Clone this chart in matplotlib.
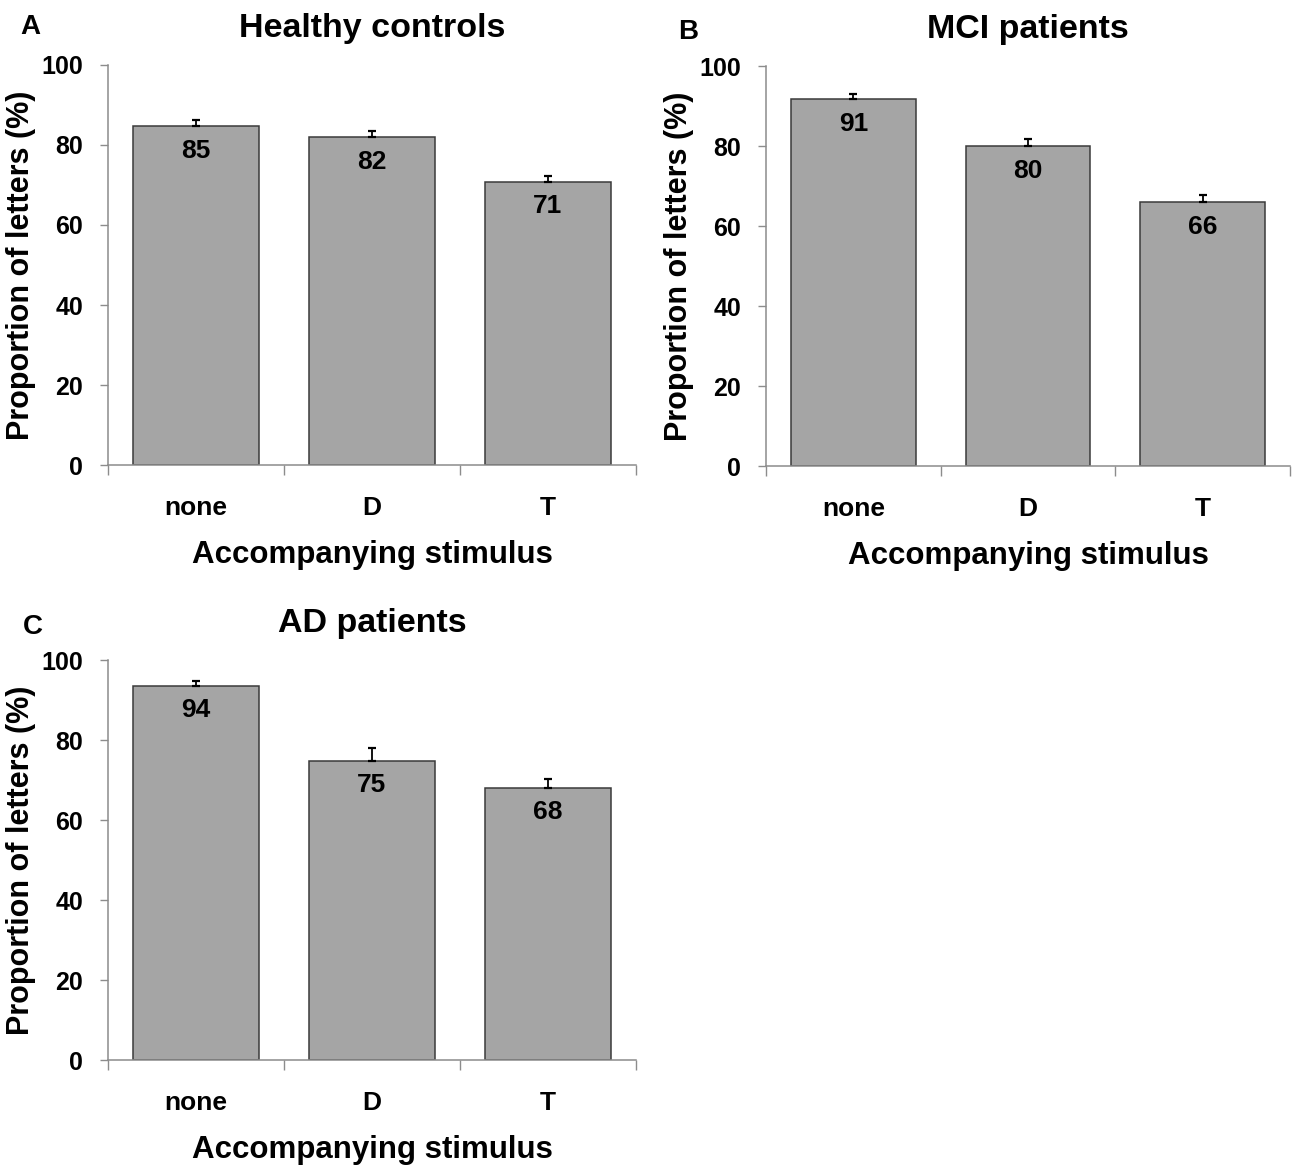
import matplotlib
matplotlib.use("Agg")
import matplotlib.pyplot as plt
from matplotlib.ticker import FixedLocator

plt.rcParams['font.family'] = ['Liberation Sans', 'DejaVu Sans']
plt.rcParams['font.weight'] = 'bold'

categories = ["none", "D", "T"]
titles = ["Healthy controls", "MCI patients", "AD patients"]
letters = ["A", "B", "C"]
healthy_means = [84.7, 81.9, 70.8]
healthy_err = [1.6, 1.5, 1.5]
healthy_labels = ["85", "82", "71"]
mci_means = [91.7, 80.0, 66.0]
mci_err = [1.3, 1.8, 1.7]
mci_labels = ["91", "80", "66"]
ad_means = [93.6, 74.8, 68.1]
ad_err = [1.2, 3.2, 2.2]
ad_labels = ["94", "75", "68"]
yticks = [0, 20, 40, 60, 80, 100]
xlabel = "Accompanying stimulus"
ylabel = "Proportion of letters (%)"

W, H = 1292, 1167
fig = plt.figure(figsize=(W / 100, H / 100), dpi=100)

# axes rectangles in pixels: (left, top, right, bottom)
rects = [(108, 65, 636, 465), (766, 66, 1290, 466), (108, 660, 636, 1060)]
letter_pos = [(30, 27), (688, 32), (33, 627)]
datasets = [(healthy_means, healthy_err, healthy_labels),
            (mci_means, mci_err, mci_labels),
            (ad_means, ad_err, ad_labels)]

axis_gray = "#8c8c8c"
for i, (rect, (means, errs, labs)) in enumerate(zip(rects, datasets)):
    l, t, r, b = rect
    ax = fig.add_axes([l / W, 1 - b / H, (r - l) / W, (b - t) / H])
    x = list(range(len(categories)))
    ax.bar(x, means, width=0.715, color="#a5a5a5", edgecolor="#3a3a3a",
           linewidth=1.1, zorder=2)
    ax.errorbar(x, means, yerr=[[0] * len(errs), errs], fmt="none",
                ecolor="black", elinewidth=1.3, capsize=3, capthick=1.6, zorder=3)
    for xi, m, lab in zip(x, means, labs):
        ax.annotate(lab, (xi, m), xytext=(0, -9), textcoords="offset points",
                    ha="center", va="top", fontsize=19, fontweight="bold")
    ax.set_xlim(-0.5, 2.5)
    ax.set_ylim(0, 100)
    ax.set_yticks(yticks)
    ax.set_xticks(x)
    ax.set_xticklabels(categories)
    ax.xaxis.set_minor_locator(FixedLocator([-0.5, 0.5, 1.5, 2.5]))
    ax.tick_params(axis="x", which="major", length=0, pad=22, labelsize=19)
    ax.tick_params(axis="x", which="minor", length=7, direction="out",
                   color=axis_gray, width=1)
    ax.tick_params(axis="y", which="major", length=6, direction="out",
                   color=axis_gray, width=1, pad=12, labelsize=18)
    for s in ["top", "right"]:
        ax.spines[s].set_visible(False)
    for s in ["left", "bottom"]:
        ax.spines[s].set_color(axis_gray)
        ax.spines[s].set_linewidth(1.1)
    ax.set_xlabel(xlabel, fontsize=22.5, fontweight="bold", labelpad=15)
    ax.set_ylabel(ylabel, fontsize=22, fontweight="bold", labelpad=4)
    ax.set_title(titles[i], fontsize=24.5, fontweight="bold", pad=20)
    lx, ly = letter_pos[i]
    fig.text(lx / W, 1 - ly / H, letters[i], fontsize=20, fontweight="bold",
             ha="center", va="center")

fig.savefig("out.png", dpi=100)
